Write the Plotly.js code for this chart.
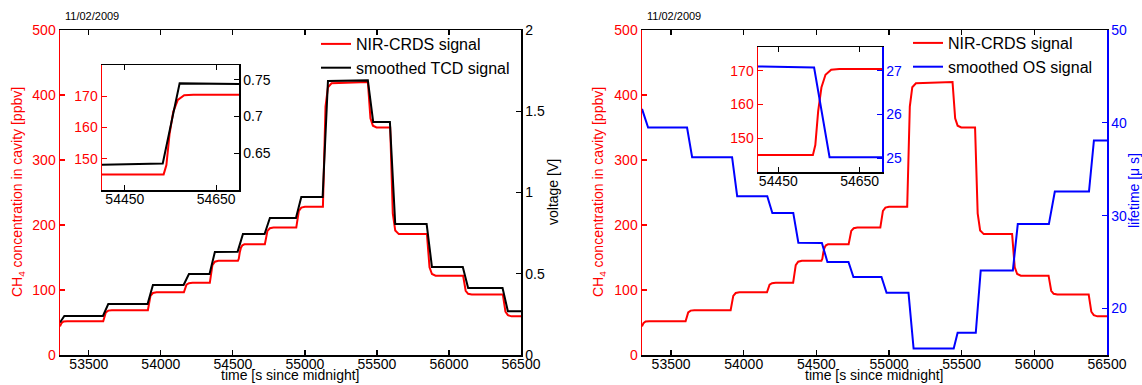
<!DOCTYPE html>
<html><head><meta charset="utf-8">
<script src="https://cdn.plot.ly/plotly-3.0.1.min.js"></script>
<style>html,body{margin:0;padding:0;background:#fff}</style>
</head><body><div id="chart" style="width:1142px;height:385px"></div>
<script>
// NIR-CRDS CH4 concentration [ppbv] vs time [s since midnight]
const crdsTime = [53300,53310,53325,53350, 53600,53608,53618,53635,53660, 53910,53918,53928,53945,53970, 54160,54168,54178,54195,54220, 54340,54348,54358,54375,54400, 54535,54541,54548,54556,54566,54580,54600, 54722,54730,54740,54757,54782, 54940,54948,54958,54975,55000, 55125,55133,55143,55160,55185,55437, 55445,55455,55472,55497, 55592,55600,55610,55627,55652, 55847,55855,55865,55882,55907, 56098,56106,56116,56133,56158, 56374,56382,56392,56409,56434,56500];
const crdsConc = [44,49,51.5,52, 52,58,65.6,68.3,69, 69,78.6,91,95.4,96.5, 96.5,101.6,108.1,110.4,111, 111,122.9,138.2,143.6,145, 145,148,158,165,168.8,170.3,170.5, 170.5,179.4,190.9,195,196, 196,207.2,221.6,226.7,228, 228,295,382,412,418,420, 395.5,364,352.8,350, 350,292,218,191.6,186, 186,163.6,134.8,124.6,122, 122,111.9,98.8,94.2,93, 93,81.5,66.6,61.3,59.5,59.5];
// smoothed TCD signal [V]
const tcdTime = [53300,53330,53598,53635,53908,53945,54158,54195,54338,54375,54533,54570,54720,54757,54938,54975,55123,55160,55437,55474,55590,55627,55845,55882,56096,56133,56372,56409,56500];
const tcdVolt = [0.20,0.24,0.24,0.314,0.314,0.431,0.431,0.498,0.498,0.634,0.636,0.745,0.744,0.843,0.843,0.972,0.972,1.686,1.69,1.434,1.434,0.806,0.806,0.541,0.541,0.412,0.412,0.27,0.27];
// smoothed OS signal, lifetime [µs]
const osTime = [53300,53342,53610,53645,53920,53955,54162,54197,54341,54376,54538,54576,54721,54755,54948,54983,55134,55169,55445,55472,55597,55631,55852,55886,56100,56141,56376,56410,56500];
const osLife = [41.5,39.5,39.5,36.3,36.3,32.1,32.1,30.3,30.3,27.1,27.07,25.02,25.02,23.4,23.4,21.7,21.7,15.7,15.7,17.4,17.4,24.1,24.1,29.1,29.1,32.6,32.6,38.1,38.1];

const mainTicks = [53500,54000,54500,55000,55500,56000,56500];
const concTicks = [0,100,200,300,400,500];
const voltTicks = [0,0.5,1,1.5,2];
const lifeTicks = [20,30,40,50];
const insetTimeTicks = [54450,54650];
const insetConcTicks = [150,160,170];
const insetVoltTicks = [0.65,0.7,0.75];
const insetLifeTicks = [25,26,27];
const dateLabel = '11/02/2009';

const RED = '#ff0000', BLUE = '#0000ff', BLACK = '#000000';
const W = 1142, H = 385;
const px = v => v / W, py = v => 1 - v / H;
const FONT = 'Liberation Sans, Arial, Helvetica, sans-serif';

function ax(extra, color) {
  return Object.assign({
    showgrid: false, zeroline: false, showline: true, linecolor: color, linewidth: 1.5,
    ticks: 'inside', ticklen: 5, tickwidth: 1.2, tickcolor: color,
    tickfont: {family: FONT, size: 14, color: color}, fixedrange: true
  }, extra);
}
function xax(extra) {
  return ax(Object.assign({tickformat: 'd', mirror: 'ticks', ticklabelstandoff: -4}, extra), BLACK);
}

const traces = [
  {x: crdsTime, y: crdsConc, xaxis: 'x', yaxis: 'y', mode: 'lines', line: {color: RED, width: 2}, name: 'NIR-CRDS signal', legend: 'legend'},
  {x: tcdTime, y: tcdVolt, xaxis: 'x', yaxis: 'y2', mode: 'lines', line: {color: BLACK, width: 2}, name: 'smoothed TCD signal', legend: 'legend'},
  {x: crdsTime, y: crdsConc, xaxis: 'x2', yaxis: 'y3', mode: 'lines', line: {color: RED, width: 2}, showlegend: false},
  {x: tcdTime, y: tcdVolt, xaxis: 'x2', yaxis: 'y4', mode: 'lines', line: {color: BLACK, width: 2}, showlegend: false},
  {x: crdsTime, y: crdsConc, xaxis: 'x3', yaxis: 'y5', mode: 'lines', line: {color: RED, width: 2}, name: 'NIR-CRDS signal', legend: 'legend2'},
  {x: osTime, y: osLife, xaxis: 'x3', yaxis: 'y6', mode: 'lines', line: {color: BLUE, width: 2}, name: 'smoothed OS signal', legend: 'legend2'},
  {x: crdsTime, y: crdsConc, xaxis: 'x4', yaxis: 'y7', mode: 'lines', line: {color: RED, width: 2}, showlegend: false},
  {x: osTime, y: osLife, xaxis: 'x4', yaxis: 'y8', mode: 'lines', line: {color: BLUE, width: 2}, showlegend: false}
];

const mainY = [py(355), py(30)];
const layout = {
  width: W, height: H, margin: {l: 0, r: 0, t: 0, b: 0},
  paper_bgcolor: '#fff', plot_bgcolor: '#fff',
  font: {family: FONT, size: 14, color: BLACK},
  showlegend: true,
  xaxis: xax({domain: [px(60), px(521)], anchor: 'y', range: [53300, 56500], tickvals: mainTicks}),
  yaxis: ax({domain: mainY, anchor: 'x', range: [0, 500], tickvals: concTicks}, RED),
  yaxis2: ax({overlaying: 'y', side: 'right', anchor: 'x', range: [0, 2], tickvals: voltTicks}, BLACK),
  xaxis2: xax({domain: [px(102), px(239)], anchor: 'y3', range: [54400, 54700], tickvals: insetTimeTicks}),
  yaxis3: ax({domain: [py(190), py(65)], anchor: 'x2', range: [140, 180], tickvals: insetConcTicks}, RED),
  yaxis4: ax({overlaying: 'y3', side: 'right', anchor: 'x2', range: [0.6, 0.77], tickvals: insetVoltTicks}, BLACK),
  xaxis3: xax({domain: [px(642), px(1107)], anchor: 'y5', range: [53300, 56500], tickvals: mainTicks}),
  yaxis5: ax({domain: mainY, anchor: 'x3', range: [0, 500], tickvals: concTicks}, RED),
  yaxis6: ax({overlaying: 'y5', side: 'right', anchor: 'x3', range: [15, 50], tickvals: lifeTicks}, BLUE),
  xaxis4: xax({domain: [px(758), px(882)], anchor: 'y7', range: [54400, 54705], tickvals: insetTimeTicks}),
  yaxis7: ax({domain: [py(172), py(47)], anchor: 'x4', range: [140, 177], tickvals: insetConcTicks}, RED),
  yaxis8: ax({overlaying: 'y7', side: 'right', anchor: 'x4', range: [24.68, 27.54], tickvals: insetLifeTicks}, BLUE),
  legend: {x: px(316), y: py(27), xanchor: 'left', yanchor: 'top', bgcolor: 'rgba(0,0,0,0)', font: {family: FONT, size: 16, color: BLACK}, tracegroupgap: 0},
  legend2: {x: px(908), y: py(26), xanchor: 'left', yanchor: 'top', bgcolor: 'rgba(0,0,0,0)', font: {family: FONT, size: 16, color: BLACK}, tracegroupgap: 0},
  annotations: [
    {text: dateLabel, xref: 'paper', yref: 'paper', x: px(63), y: py(16), xanchor: 'left', yanchor: 'middle', showarrow: false, font: {size: 11, color: BLACK}},
    {text: dateLabel, xref: 'paper', yref: 'paper', x: px(645), y: py(16), xanchor: 'left', yanchor: 'middle', showarrow: false, font: {size: 11, color: BLACK}},
    {text: 'CH<sub>4</sub> concentration in cavity [ppbv]', xref: 'paper', yref: 'paper', x: px(18), y: py(192), textangle: -90, xanchor: 'center', yanchor: 'middle', showarrow: false, font: {size: 14, color: RED}},
    {text: 'CH<sub>4</sub> concentration in cavity [ppbv]', xref: 'paper', yref: 'paper', x: px(599), y: py(192), textangle: -90, xanchor: 'center', yanchor: 'middle', showarrow: false, font: {size: 14, color: RED}},
    {text: 'voltage [V]', xref: 'paper', yref: 'paper', x: px(553), y: py(192), textangle: -90, xanchor: 'center', yanchor: 'middle', showarrow: false, font: {size: 14, color: BLACK}},
    {text: 'lifetime [μ s]', xref: 'paper', yref: 'paper', x: px(1134), y: py(191), textangle: -90, xanchor: 'center', yanchor: 'middle', showarrow: false, font: {size: 14, color: BLUE}},
    {text: 'time [s since midnight]', xref: 'paper', yref: 'paper', x: px(290), y: py(385), xanchor: 'center', yanchor: 'bottom', showarrow: false, font: {size: 14, color: BLACK}},
    {text: 'time [s since midnight]', xref: 'paper', yref: 'paper', x: px(874), y: py(385), xanchor: 'center', yanchor: 'bottom', showarrow: false, font: {size: 14, color: BLACK}}
  ]
};

Plotly.newPlot('chart', traces, layout, {displayModeBar: false, staticPlot: true});
</script>
</body></html>
